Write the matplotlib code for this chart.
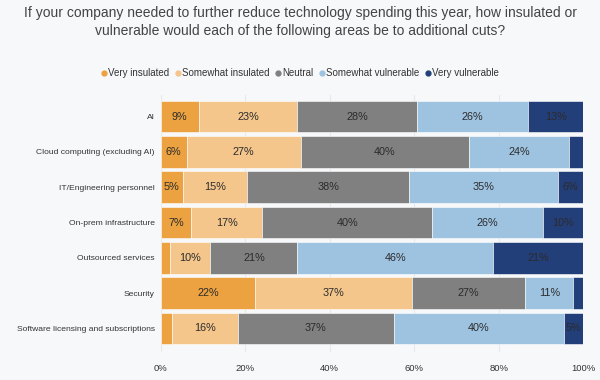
import numpy as np
import matplotlib
matplotlib.use("Agg")
import matplotlib.pyplot as plt

plt.rcParams['font.family'] = ['Liberation Sans', 'DejaVu Sans']

# data (percent of respondents)
areas = ['AI', 'Cloud computing (excluding AI)', 'IT/Engineering personnel',
         'On-prem infrastructure', 'Outsourced services', 'Security',
         'Software licensing and subscriptions']
series = ['Very insulated', 'Somewhat insulated', 'Neutral',
          'Somewhat vulnerable', 'Very vulnerable']
very_insulated = [9.1, 6.2, 5.3, 7.3, 2.2, 22.4, 2.7]
somewhat_insulated = [23.3, 27.0, 15.2, 16.8, 9.6, 37.0, 15.6]
neutral = [28.2, 39.8, 38.3, 40.2, 20.6, 26.9, 36.9]
somewhat_vulnerable = [26.4, 23.7, 35.3, 26.1, 46.2, 11.4, 40.2]
very_vulnerable = [13.0, 3.3, 5.9, 9.6, 21.4, 2.3, 4.6]
xticks = [0, 20, 40, 60, 80, 100]

colors = ['#eca241', '#f4c68c', '#808080', '#9ec3e1', '#233f7a']
bg = '#f7f8fa'

fig = plt.figure(figsize=(6, 3.8), dpi=100, facecolor=bg)
ax = fig.add_axes([0.2675, 0.0737, 0.7045, 0.676])
ax.set_facecolor(bg)

y = np.arange(len(areas))
left = np.zeros(len(areas))
for name, vals, col in zip(series, [very_insulated, somewhat_insulated, neutral,
                                    somewhat_vulnerable, very_vulnerable], colors):
    vals = np.array(vals)
    ax.barh(y, vals, left=left, height=0.89, color=col, edgecolor='white',
            linewidth=0.4, label=name, zorder=2)
    for yi, l, v in zip(y, left, vals):
        if round(v) >= 5:
            ax.text(l + v / 2, yi, f'{round(v)}%', ha='center', va='center',
                    fontsize=7.8, color='#2b2b2b', zorder=3)
    left += vals

ax.set_xlim(0, 100)
ax.set_ylim(6.665, -0.606)
ax.set_yticks(y)
ax.set_yticklabels(areas, fontsize=6.1, color='#333333')
ax.set_xticks(xticks)
ax.set_xticklabels([f'{t}%' for t in xticks], fontsize=6.8, color='#333333')
ax.tick_params(length=0, pad=4)
ax.tick_params(axis='x', pad=9)
ax.grid(axis='x', color='#e6e8ec', linewidth=0.8, zorder=0)
for s in ax.spines.values():
    s.set_visible(False)

fig.text(0.5, 0.985, 'If your company needed to further reduce technology spending this year, how insulated or\n'
         'vulnerable would each of the following areas be to additional cuts?',
         ha='center', va='top', fontsize=10, color='#444444', linespacing=1.4)

# legend with round markers
handles = [plt.Line2D([], [], marker='o', linestyle='', markersize=3.5, color=c) for c in colors]
fig.legend(handles, series, loc='center', bbox_to_anchor=(0.5, 0.808), ncol=5,
           frameon=False, fontsize=7, handlelength=0.6, handletextpad=0.1,
           columnspacing=0.6, labelcolor='#333333')

fig.savefig('out.png', dpi=100, facecolor=bg)
